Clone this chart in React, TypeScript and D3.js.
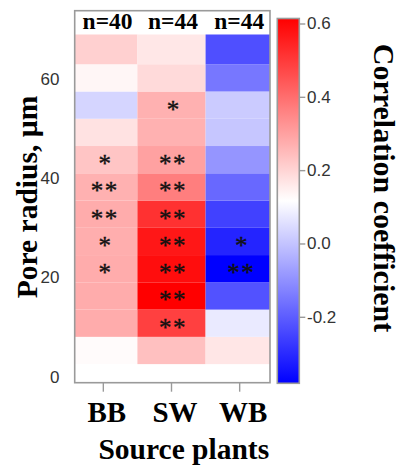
import React from "react";
import * as d3 from "d3";

// ---- data ----
const categories = ["BB", "SW", "WB"];
const sampleSizes = [40, 44, 44];
// pore radius bin edges (µm), bottom to top
const radiusEdges = [2.5, 8, 13.5, 19, 24.5, 30, 35.5, 41, 46.5, 52, 57.5, 63, 69];
// correlation coefficients per bin, bottom to top
const bbValues = [0.125, 0.28, 0.28, 0.28, 0.275, 0.28, 0.27, 0.23, 0.175, 0.035, 0.135, 0.21];
const swValues = [0.24, 0.49, 0.615, 0.59, 0.57, 0.52, 0.37, 0.3, 0.27, 0.27, 0.19, 0.165];
const wbValues = [0.167, 0.076, -0.22, -0.38, -0.31, -0.254, -0.177, -0.09, 0.006, 0.016, -0.147, -0.225];
// significance marks per bin, bottom to top
const bbSig = ["", "", "", "*", "*", "**", "**", "*", "", "", "", ""];
const swSig = ["", "**", "**", "**", "**", "**", "**", "**", "", "*", "", ""];
const wbSig = ["", "", "", "**", "*", "", "", "", "", "", "", ""];
const yTicks = [0, 20, 40, 60];
const cbTicks = [-0.2, 0.0, 0.2, 0.4, 0.6];

const seriesValues = [bbValues, swValues, wbValues];
const seriesSig = [bbSig, swSig, wbSig];

export default function App() {
  const W = 401, H = 467;
  const left = 74.7, right = 270, top = 10.7, bottom = 382.7;
  const headerBottom = 33.3;

  const x = d3.scaleLinear().domain([0.58, 3.445]).range([left, right]);
  const y = d3.scaleLinear().domain([-1.25, 73.8]).range([bottom, top]);

  const all = seriesValues.flat();
  const vmin = d3.min(all)!, vmax = d3.max(all)!;
  const vmid = (vmin + vmax) / 2;
  const color = d3.scaleLinear<string>().domain([vmin, vmid, vmax]).range(["#0000ff", "#ffffff", "#ff0000"]);

  const cbLeft = 277.3, cbRight = 299.3, cbTop = 18.5, cbBottom = 383.3;
  const cbScale = d3.scaleLinear().domain([vmin, vmax]).range([cbBottom, cbTop]);

  const cells: any[] = [];
  seriesValues.forEach((vals, ci) => {
    vals.forEach((v, ri) => {
      const x0 = Math.max(left, x(ci + 0.5));
      const x1 = Math.min(right, x(ci + 1.5));
      const y0 = y(radiusEdges[ri + 1]);
      const y1 = y(radiusEdges[ri]);
      cells.push({ ci, ri, v, x0, x1, y0, y1, sig: seriesSig[ci][ri] });
    });
  });

  const serif = "'Liberation Serif', 'Times New Roman', serif";
  const sans = "'Liberation Sans Narrow', 'Liberation Sans', Arial, sans-serif";
  const gray = "#9a9a9a";

  return (
    <svg width={W} height={H} style={{ position: "absolute", left: 0, top: 0, background: "#fff" }}>
      <defs>
        <linearGradient id="cbgrad" x1="0" y1="1" x2="0" y2="0">
          {d3.range(0, 1.0001, 0.05).map((t) => (
            <stop key={t} offset={t} stopColor={color(vmin + t * (vmax - vmin))} />
          ))}
        </linearGradient>
        <clipPath id="plotclip">
          <rect x={left} y={top} width={right - left} height={bottom - top} />
        </clipPath>
      </defs>
      <rect x={0} y={0} width={W} height={H} fill="#fff" />
      {/* cells */}
      <g clipPath="url(#plotclip)">
        {cells.map((c) => (
          <rect key={`${c.ci}-${c.ri}`} x={c.x0} y={c.y0} width={c.x1 - c.x0} height={c.y1 - c.y0} fill={color(c.v)} />
        ))}
        <rect x={left} y={top} width={right - left} height={headerBottom - top} fill="#fff" />
      </g>
      {/* stars */}
      {cells.filter((c) => c.sig).map((c) => (
        <text key={`s${c.ci}-${c.ri}`} x={x(c.ci + 1) + 1.5} y={(c.y0 + c.y1) / 2 + 12.5}
          textAnchor="middle" fontFamily={serif} fontSize={25} letterSpacing={c.sig.length > 1 ? 1.5 : 0}
          fill="#111" stroke="#111" strokeWidth={0.4}>
          {c.sig}
        </text>
      ))}
      {/* header */}
      {categories.map((cat, i) => {
        const x0 = Math.max(left, x(i + 0.5));
        const x1 = Math.min(right, x(i + 1.5));
        return (
          <text key={`n${cat}`} x={(x0 + x1) / 2 + 1.5} y={29} textAnchor="middle" fontFamily={serif}
            fontWeight="bold" fontSize={23.5} fill="#000">{`n=${sampleSizes[i]}`}</text>
        );
      })}
      {/* frame */}
      <rect x={left} y={top} width={right - left} height={bottom - top} fill="none" stroke={gray} strokeWidth={1.6} />
      {/* x ticks */}
      {categories.map((cat, i) => (
        <g key={`xt${cat}`}>
          <line x1={x(i + 1)} x2={x(i + 1)} y1={bottom} y2={bottom + 9} stroke={gray} strokeWidth={1.4} />
          <text x={x(i + 1) + 3.5} y={422} textAnchor="middle" fontFamily={serif} fontWeight="bold" fontSize={29} fill="#000">{cat}</text>
        </g>
      ))}
      {/* y ticks */}
      {yTicks.map((t) => (
        <text key={`yt${t}`} x={59.5} y={y(t) + 6} textAnchor="end" fontFamily={sans} fontSize={17} fill="#333">{t}</text>
      ))}
      {/* axis titles */}
      <text x={183.8} y={459} textAnchor="middle" fontFamily={serif} fontWeight="bold" fontSize={29.5} fill="#000">Source plants</text>
      <text transform={`translate(37,197) rotate(-90)`} textAnchor="middle" fontFamily={serif} fontWeight="bold" fontSize={29.5} fill="#000">Pore radius, µm</text>
      {/* colorbar */}
      <rect x={cbLeft} y={cbTop} width={cbRight - cbLeft} height={cbBottom - cbTop} fill="url(#cbgrad)" stroke={gray} strokeWidth={1.6} />
      {cbTicks.map((t) => (
        <g key={`cb${t}`}>
          <line x1={cbRight} x2={cbRight + 6} y1={cbScale(t)} y2={cbScale(t)} stroke={gray} strokeWidth={1.4} />
          <text x={307} y={cbScale(t) + 5.5} fontFamily={sans} fontSize={17} fill="#333">{t.toFixed(1)}</text>
        </g>
      ))}
      <text transform={`translate(374,188) rotate(90)`} textAnchor="middle" fontFamily={serif} fontWeight="bold" fontSize={30} fill="#000">Correlation coefficient</text>
    </svg>
  );
}
